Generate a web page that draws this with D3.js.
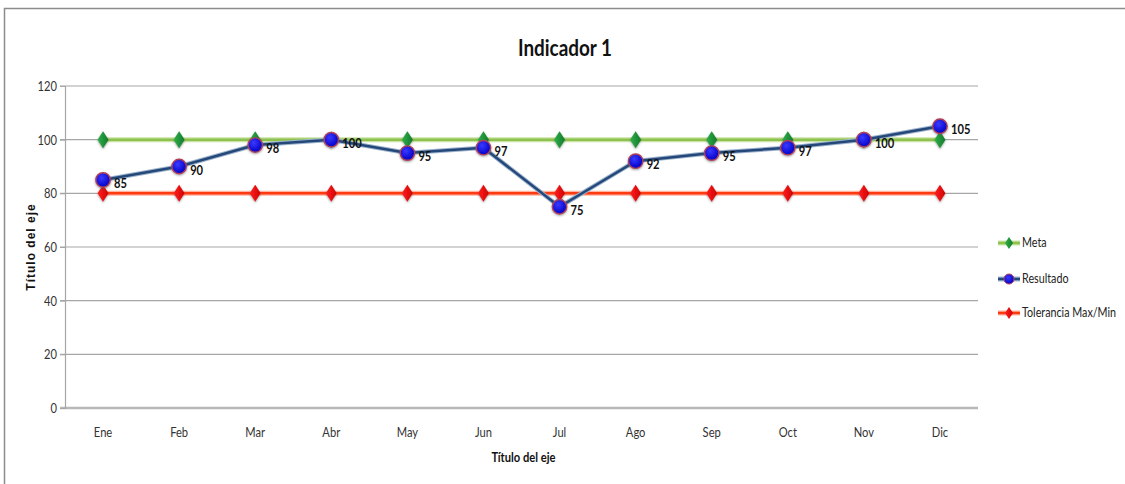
<!DOCTYPE html>
<html>
<head>
<meta charset="utf-8">
<script src="https://cdn.jsdelivr.net/npm/d3@7"></script>
<style>
  html, body { margin: 0; padding: 0; background: #fff; }
  svg { display: block; }
</style>
</head>
<body>
<svg id="chart" width="1125" height="484"></svg>
<script>
// Monthly categories and series
const months = ["Ene", "Feb", "Mar", "Abr", "May", "Jun", "Jul", "Ago", "Sep", "Oct", "Nov", "Dic"];
const meta = [100, 100, 100, 100, 100, 100, 100, 100, 100, 100, 100, 100];
const resultado = [85, 90, 98, 100, 95, 97, 75, 92, 95, 97, 100, 105];
const tolerancia = [80, 80, 80, 80, 80, 80, 80, 80, 80, 80, 80, 80];
const yTicks = [0, 20, 40, 60, 80, 100, 120];
const seriesNames = ["Meta", "Resultado", "Tolerancia Max/Min"];

const FONT = "Lato, 'Open Sans', sans-serif";
const SQUEEZE = 0.86; // condensed look for the text

const svg = d3.select("#chart");
const W = 1125, H = 484;
const plot = { left: 65, right: 978, top: 86, bottom: 408 };

// Draw text horizontally condensed around its anchor point
function label(parent, px, py, str, opts = {}) {
  return parent.append("text")
    .attr("transform", `translate(${px},${py}) scale(${opts.sx ?? SQUEEZE},1)`)
    .attr("text-anchor", opts.anchor || "start")
    .attr("font-family", opts.family || FONT)
    .attr("font-size", opts.size || 12)
    .attr("font-weight", opts.weight || "normal")
    .attr("fill", opts.fill || "#333")
    .text(str);
}

// Chart frame
svg.append("rect")
  .attr("x", 4.5).attr("y", 8.5)
  .attr("width", W + 10).attr("height", H + 10)
  .attr("fill", "#fff").attr("stroke", "#8c8c8c").attr("stroke-width", 1.5);

const x = d3.scaleBand().domain(months).range([plot.left, plot.right]);
const y = d3.scaleLinear().domain([0, 120]).range([plot.bottom, plot.top]);
const cx = m => x(m) + x.bandwidth() / 2;

// Horizontal gridlines
svg.append("g")
  .selectAll("line")
  .data(yTicks)
  .join("line")
  .attr("x1", plot.left - 5).attr("x2", plot.right)
  .attr("y1", d => y(d)).attr("y2", d => y(d))
  .attr("stroke", d => d === 0 ? "#b8b8b8" : "#a6a6a6")
  .attr("stroke-width", d => d === 0 ? 2.5 : 1.2);

// Y axis line and tick marks
const yAxis = svg.append("g")
  .attr("transform", `translate(${plot.left},0)`)
  .call(d3.axisLeft(y).tickValues(yTicks).tickSize(5).tickFormat(""));
yAxis.select(".domain").attr("stroke", "#a6a6a6").attr("stroke-width", 1.2);
yAxis.selectAll(".tick line").attr("stroke", "#a6a6a6");
yAxis.selectAll(".tick").each(function (d) {
  label(d3.select(this), -8, 4.5, d, { anchor: "end", size: 13 });
});

// X axis category labels
const xAxis = svg.append("g")
  .attr("transform", `translate(0,${plot.bottom})`)
  .call(d3.axisBottom(x).tickSize(0).tickFormat(""));
xAxis.select(".domain").remove();
xAxis.selectAll(".tick").each(function (d) {
  label(d3.select(this), 0, 29, d, { anchor: "middle", size: 13 });
});

// Title and axis titles
label(svg, 565, 56, "Indicador 1", { anchor: "middle", size: 22, weight: "bold", fill: "#111" });
label(svg, (plot.left + plot.right) / 2 + 2, 462, "Título del eje", { anchor: "middle", size: 13, weight: "bold", fill: "#111" });

svg.append("text")
  .attr("transform", `translate(35,${(plot.top + plot.bottom) / 2}) rotate(-90)`)
  .attr("text-anchor", "middle")
  .attr("font-family", "'Liberation Sans', Arial, sans-serif")
  .attr("font-weight", "bold").attr("font-size", 12).attr("fill", "#111")
  .attr("letter-spacing", 1)
  .text("Título del eje");

// Marker defs
const defs = svg.append("defs");
const gBlue = defs.append("radialGradient").attr("id", "gBlue").attr("cx", "40%").attr("cy", "35%").attr("r", "65%");
gBlue.append("stop").attr("offset", "0%").attr("stop-color", "#3a3aff");
gBlue.append("stop").attr("offset", "100%").attr("stop-color", "#0000c8");
const gGreen = defs.append("linearGradient").attr("id", "gGreen").attr("x1", "0").attr("x2", "1");
gGreen.append("stop").attr("offset", "0%").attr("stop-color", "#2fb04a");
gGreen.append("stop").attr("offset", "100%").attr("stop-color", "#137a2c");
const gRed = defs.append("linearGradient").attr("id", "gRed").attr("x1", "0").attr("x2", "1");
gRed.append("stop").attr("offset", "0%").attr("stop-color", "#ff2020");
gRed.append("stop").attr("offset", "100%").attr("stop-color", "#d00000");
const shadow = defs.append("filter").attr("id", "shadow").attr("x", "-50%").attr("y", "-50%").attr("width", "200%").attr("height", "200%");
shadow.append("feDropShadow").attr("dx", 0).attr("dy", 1).attr("stdDeviation", 1).attr("flood-color", "#555").attr("flood-opacity", 0.6);

const diamond = (px, py, w, h) => `M${px},${py - h} L${px + w},${py} L${px},${py + h} L${px - w},${py} Z`;

const line = d3.line().x((d, i) => cx(months[i])).y(d => y(d));

// Tolerance line
svg.append("path").datum(tolerancia).attr("d", line)
  .attr("fill", "none").attr("stroke", "#ffb3a0").attr("stroke-width", 5);
svg.append("path").datum(tolerancia).attr("d", line)
  .attr("fill", "none").attr("stroke", "#ff3a10").attr("stroke-width", 2.5);

// Target line
svg.append("path").datum(meta).attr("d", line)
  .attr("fill", "none").attr("stroke", "#c9e3a4").attr("stroke-width", 5);
svg.append("path").datum(meta).attr("d", line)
  .attr("fill", "none").attr("stroke", "#8dc24f").attr("stroke-width", 2.5);

// Target markers
svg.append("g").selectAll("path").data(meta).join("path")
  .attr("d", (d, i) => diamond(cx(months[i]), y(d), 5.5, 8.5))
  .attr("fill", "url(#gGreen)").attr("filter", "url(#shadow)");

// Tolerance markers
svg.append("g").selectAll("path").data(tolerancia).join("path")
  .attr("d", (d, i) => diamond(cx(months[i]), y(d), 5.5, 8.5))
  .attr("fill", "url(#gRed)").attr("filter", "url(#shadow)");

// Result line
svg.append("path").datum(resultado).attr("d", line)
  .attr("fill", "none").attr("stroke", "#9db3cc").attr("stroke-width", 4.5);
svg.append("path").datum(resultado).attr("d", line)
  .attr("fill", "none").attr("stroke", "#24487a").attr("stroke-width", 2.5);

// Result markers
svg.append("g").selectAll("circle").data(resultado).join("circle")
  .attr("cx", (d, i) => cx(months[i])).attr("cy", d => y(d))
  .attr("r", 7.2)
  .attr("fill", "url(#gBlue)").attr("stroke", "#b0405a").attr("stroke-width", 1.4)
  .attr("filter", "url(#shadow)");

// Result value labels
const valueLabels = svg.append("g");
resultado.forEach((d, i) => {
  label(valueLabels, cx(months[i]) + 11, y(d) + 8, d, { size: 13, weight: "bold", fill: "#111" });
});

// Legend
const legendY = [243, 279, 313];
const leg = svg.append("g");
seriesNames.forEach((name, i) => {
  const ly = legendY[i];
  const g = leg.append("g");
  const col = ["#8dc24f", "#24487a", "#ff3a10"][i];
  const halo = ["#c9e3a4", "#9db3cc", "#ffb3a0"][i];
  g.append("line").attr("x1", 998).attr("x2", 1020).attr("y1", ly).attr("y2", ly)
    .attr("stroke", halo).attr("stroke-width", 5);
  g.append("line").attr("x1", 998).attr("x2", 1020).attr("y1", ly).attr("y2", ly)
    .attr("stroke", col).attr("stroke-width", 2.5);
  if (i === 1) {
    g.append("circle").attr("cx", 1009).attr("cy", ly).attr("r", 5)
      .attr("fill", "url(#gBlue)").attr("stroke", "#b0405a").attr("stroke-width", 1);
  } else {
    g.append("path").attr("d", diamond(1009, ly, 4, 6))
      .attr("fill", i === 0 ? "url(#gGreen)" : "url(#gRed)");
  }
  label(g, 1022, ly + 4, name, { size: 12.5, fill: "#222" });
});
</script>
</body>
</html>
